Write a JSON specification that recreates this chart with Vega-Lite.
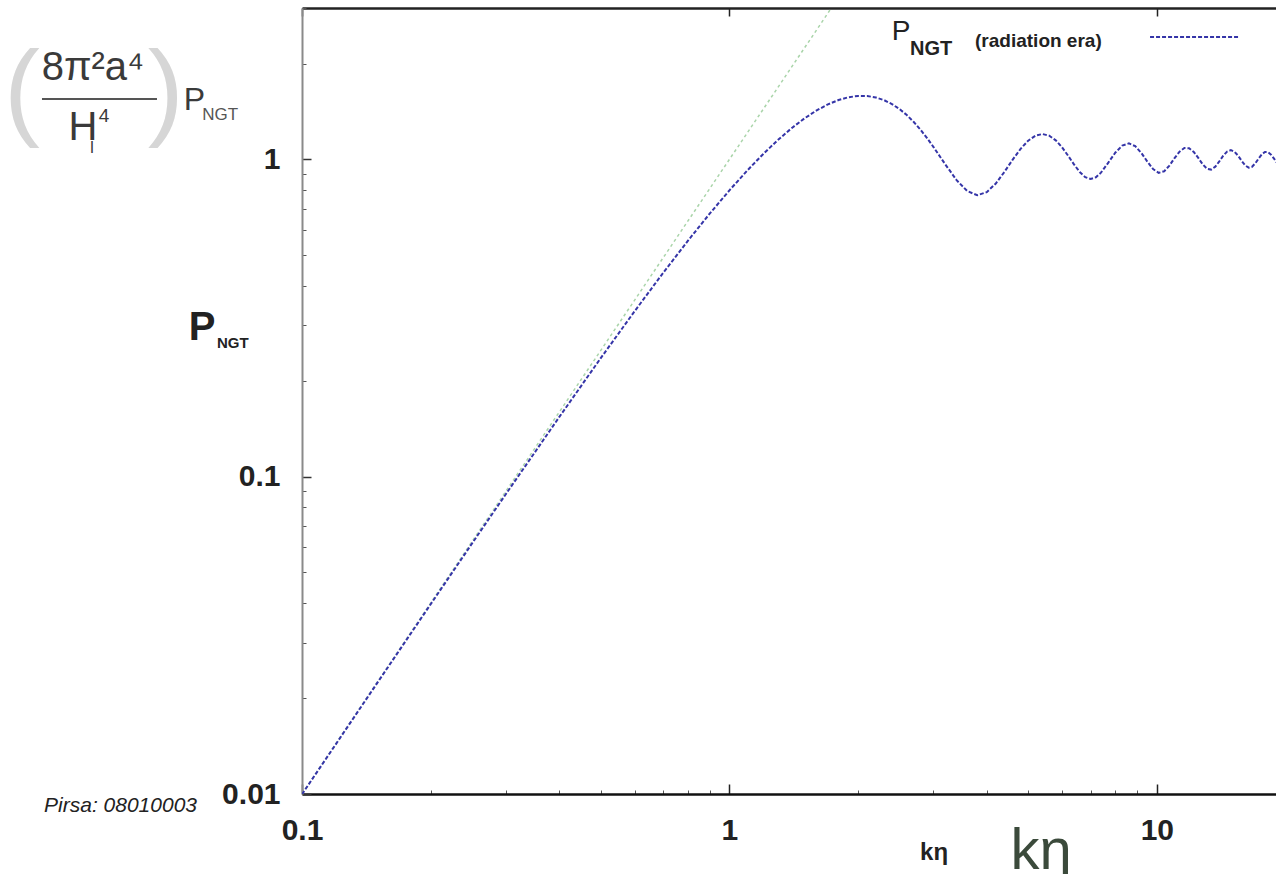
{
  "$schema": "https://vega.github.io/schema/vega-lite/v6.json",
  "width": 974,
  "height": 786,
  "autosize": {"type": "none"},
  "padding": {"left": 302, "top": 8, "right": 0, "bottom": 80},
  "background": "white",
  "config": {"view": {"stroke": null}, "axis": {"grid": false}},
  "datasets": {
    "curve": [
      {"k": 0.1, "p": 0.00998}, {"k": 0.15, "p": 0.02239}, {"k": 0.2, "p": 0.03964}, {"k": 0.25, "p": 0.06163},
      {"k": 0.3, "p": 0.0882}, {"k": 0.4, "p": 0.1543}, {"k": 0.5, "p": 0.2365}, {"k": 0.6, "p": 0.3322},
      {"k": 0.7, "p": 0.4392}, {"k": 0.8, "p": 0.5546}, {"k": 0.9, "p": 0.6755}, {"k": 1.0, "p": 0.7988},
      {"k": 1.1, "p": 0.9214}, {"k": 1.2, "p": 1.0404}, {"k": 1.3, "p": 1.1528}, {"k": 1.4, "p": 1.2562},
      {"k": 1.5, "p": 1.3481}, {"k": 1.6, "p": 1.4268}, {"k": 1.7, "p": 1.4906}, {"k": 1.8, "p": 1.5386},
      {"k": 1.9, "p": 1.5701}, {"k": 2.0, "p": 1.5851}, {"k": 2.1, "p": 1.584}, {"k": 2.2, "p": 1.5676},
      {"k": 2.3, "p": 1.5372}, {"k": 2.4, "p": 1.4943}, {"k": 2.5, "p": 1.4409}, {"k": 2.6, "p": 1.3791},
      {"k": 2.7, "p": 1.3113}, {"k": 2.8, "p": 1.2398}, {"k": 2.9, "p": 1.167}, {"k": 3.0, "p": 1.0954},
      {"k": 3.2, "p": 0.9639}, {"k": 3.4, "p": 0.8603}, {"k": 3.6, "p": 0.7946}, {"k": 3.8, "p": 0.7712},
      {"k": 4.0, "p": 0.7885}, {"k": 4.2, "p": 0.8396}, {"k": 4.4, "p": 0.9138}, {"k": 4.6, "p": 0.9982},
      {"k": 4.8, "p": 1.0794}, {"k": 5.0, "p": 1.1456}, {"k": 5.2, "p": 1.1881}, {"k": 5.4, "p": 1.2021},
      {"k": 5.6, "p": 1.1876}, {"k": 5.8, "p": 1.1483}, {"k": 6.0, "p": 1.0916}, {"k": 6.2, "p": 1.0269},
      {"k": 6.4, "p": 0.9642}, {"k": 6.6, "p": 0.9125}, {"k": 6.8, "p": 0.8789}, {"k": 7.0, "p": 0.8673},
      {"k": 7.2, "p": 0.878}, {"k": 7.4, "p": 0.9082}, {"k": 7.7, "p": 0.9771}, {"k": 8.0, "p": 1.0513},
      {"k": 8.3, "p": 1.1056}, {"k": 8.6, "p": 1.1232}, {"k": 8.9, "p": 1.1006}, {"k": 9.2, "p": 1.0478},
      {"k": 9.5, "p": 0.9843}, {"k": 9.8, "p": 0.9318}, {"k": 10.1, "p": 0.9072}, {"k": 10.4, "p": 0.917},
      {"k": 10.7, "p": 0.9559}, {"k": 11.0, "p": 1.0091}, {"k": 11.3, "p": 1.0577}, {"k": 11.6, "p": 1.0857},
      {"k": 11.9, "p": 1.0844}, {"k": 12.2, "p": 1.0557}, {"k": 12.5, "p": 1.0106}, {"k": 12.8, "p": 0.9651},
      {"k": 13.1, "p": 0.9346}, {"k": 13.4, "p": 0.9288}, {"k": 13.7, "p": 0.9484}, {"k": 14.0, "p": 0.9857},
      {"k": 14.3, "p": 1.0271}, {"k": 14.6, "p": 1.0585}, {"k": 14.9, "p": 1.0694}, {"k": 15.2, "p": 1.0569},
      {"k": 15.5, "p": 1.0262}, {"k": 15.8, "p": 0.9885}, {"k": 16.1, "p": 0.9567}, {"k": 16.4, "p": 0.9416},
      {"k": 16.7, "p": 0.9477}, {"k": 17.0, "p": 0.9721}, {"k": 17.3, "p": 1.0058}, {"k": 17.6, "p": 1.037},
      {"k": 17.9, "p": 1.0549}, {"k": 18.2, "p": 1.054}, {"k": 18.5, "p": 1.0351}, {"k": 18.8, "p": 1.0053},
      {"k": 19.1, "p": 0.975}
    ],
    "asymptote": [{"k": 0.1, "p": 0.01}, {"k": 1.732, "p": 3.0}],
    "legendline": [{"k": 9.64, "p": 2.43}, {"k": 15.65, "p": 2.43}],
    "frac": [{"k1": 0.024642, "k2": 0.045787, "p": 1.5499}],
    "labels": [
      {"s": "paren", "t": "(", "k": 0.022131, "p": 1.2742},
      {"s": "paren", "t": ")", "k": 0.048, "p": 1.2742},
      {"s": "fbig", "t": "8π²a⁴", "k": 0.032434, "p": 1.7791},
      {"s": "fbig", "t": "H", "k": 0.030733, "p": 1.151},
      {"s": "fsup", "t": "4", "k": 0.03441, "p": 1.3118},
      {"s": "fsub", "t": "I", "k": 0.032261, "p": 1.0475},
      {"s": "fP", "t": "P", "k": 0.056, "p": 1.4309},
      {"s": "fNGT", "t": "NGT", "k": 0.05845, "p": 1.331},
      {"s": "yP", "t": "P", "k": 0.058351, "p": 0.26969},
      {"s": "yNGT", "t": "NGT", "k": 0.063259, "p": 0.25441},
      {"s": "kSmall", "t": "kη", "k": 3.0112, "p": 0.0061935},
      {"s": "kBig", "t": "kη", "k": 5.3585, "p": 0.0058016},
      {"s": "pirsa", "t": "Pirsa: 08010003", "k": 0.056799, "p": 0.0087751},
      {"s": "legP", "t": "P", "k": 2.5206, "p": 2.3781},
      {"s": "legNGT", "t": "NGT", "k": 2.6459, "p": 2.1331},
      {"s": "legEra", "t": "(radiation era)", "k": 3.755, "p": 2.2609}
    ]
  },
  "layer": [
    {
      "data": {"name": "asymptote"},
      "mark": {"type": "line", "color": "#a9d4a9", "strokeWidth": 1.5, "strokeDash": [3, 3], "clip": true},
      "encoding": {
        "x": {"field": "k", "type": "quantitative", "scale": {"type": "log", "domain": [0.1, 19], "nice": false},
          "axis": {"orient": "bottom", "values": [0.2, 0.3, 0.4, 0.5, 0.6, 0.7, 0.8, 0.9, 2, 3, 4, 5, 6, 7, 8, 9], "tickSize": -4, "tickColor": "#555", "tickWidth": 1, "labels": false, "domain": false, "title": null}},
        "y": {"field": "p", "type": "quantitative", "scale": {"type": "log", "domain": [0.01, 3], "nice": false},
          "axis": {"orient": "left", "values": [0.02, 0.03, 0.04, 0.05, 0.06, 0.07, 0.08, 0.09, 0.2, 0.3, 0.4, 0.5, 0.6, 0.7, 0.8, 0.9, 2, 3], "tickSize": -4, "tickColor": "#555", "tickWidth": 1, "labels": false, "domain": false, "title": null}}
      }
    },
    {
      "mark": {"type": "rule", "color": "#c0182f", "strokeWidth": 2},
      "encoding": {
        "y": {"datum": 1, "type": "quantitative", "scale": {"type": "log", "domain": [0.01, 3], "nice": false}, "axis": null}
      }
    },
    {
      "data": {"name": "curve"},
      "mark": {"type": "line", "color": "#3535a8", "strokeWidth": 2, "strokeDash": [4, 2], "clip": true},
      "encoding": {
        "x": {"field": "k", "type": "quantitative", "scale": {"type": "log", "domain": [0.1, 19], "nice": false},
          "axis": {"orient": "bottom", "values": [0.1, 1, 10], "tickSize": -10, "tickWidth": 1.5, "tickColor": "#222", "domainColor": "#111", "domainWidth": 2.5, "labelFont": "Liberation Sans", "labelFontWeight": "bold", "labelFontSize": 30, "labelColor": "#222", "labelPadding": 31, "labelFlush": false, "labelOverlap": false, "labelExpr": "datum.value >= 5 ? '10' : datum.value >= 0.5 ? '1' : '0.1'", "title": null}},
        "y": {"field": "p", "type": "quantitative", "scale": {"type": "log", "domain": [0.01, 3], "nice": false},
          "axis": {"orient": "left", "values": [0.01, 0.1, 1], "tickSize": -9, "tickWidth": 1.5, "tickColor": "#333", "domainColor": "#8a8a8a", "domainWidth": 2, "labelFont": "Liberation Sans", "labelFontWeight": "bold", "labelFontSize": 30, "labelColor": "#222", "labelPadding": 31, "labelFlush": false, "labelOverlap": false, "labelExpr": "datum.value < 0.05 ? '0.01' : datum.value < 0.5 ? '0.1' : '1'", "title": null}}
      }
    },
    {
      "data": {"name": "legendline"},
      "mark": {"type": "line", "color": "#3535a8", "strokeWidth": 2, "strokeDash": [4, 2]},
      "encoding": {
        "x": {"field": "k", "type": "quantitative", "scale": {"type": "log", "domain": [0.1, 19], "nice": false},
          "axis": {"orient": "top", "values": [0.1, 1, 10], "tickSize": -8, "tickColor": "#222", "tickWidth": 1.5, "labels": false, "domain": true, "domainColor": "#222", "domainWidth": 2.5, "title": null}},
        "y": {"field": "p", "type": "quantitative", "scale": {"type": "log", "domain": [0.01, 3], "nice": false}, "axis": null}
      }
    },
    {
      "data": {"name": "frac"},
      "mark": {"type": "rule", "color": "#555555", "strokeWidth": 2, "clip": false},
      "encoding": {
        "x": {"field": "k1", "type": "quantitative", "scale": {"type": "log", "domain": [0.1, 19], "nice": false}, "axis": null},
        "x2": {"field": "k2"},
        "y": {"field": "p", "type": "quantitative", "scale": {"type": "log", "domain": [0.01, 3], "nice": false}, "axis": null}
      }
    },
    {
      "data": {"name": "labels"},
      "transform": [{"filter": "datum.s == 'paren'"}],
      "mark": {"type": "text", "font": "Liberation Sans", "fontSize": 108, "color": "#d6d6d6", "align": "center", "baseline": "alphabetic", "clip": false},
      "encoding": {
        "x": {"field": "k", "type": "quantitative", "scale": {"type": "log", "domain": [0.1, 19], "nice": false}, "axis": null},
        "y": {"field": "p", "type": "quantitative", "scale": {"type": "log", "domain": [0.01, 3], "nice": false}, "axis": null},
        "text": {"field": "t"}
      }
    },
    {
      "data": {"name": "labels"},
      "transform": [{"filter": "datum.s == 'fbig'"}],
      "mark": {"type": "text", "font": "Liberation Sans", "fontSize": 40, "color": "#3a3a3a", "align": "center", "baseline": "alphabetic", "clip": false},
      "encoding": {
        "x": {"field": "k", "type": "quantitative", "scale": {"type": "log", "domain": [0.1, 19], "nice": false}, "axis": null},
        "y": {"field": "p", "type": "quantitative", "scale": {"type": "log", "domain": [0.01, 3], "nice": false}, "axis": null},
        "text": {"field": "t"}
      }
    },
    {
      "data": {"name": "labels"},
      "transform": [{"filter": "datum.s == 'fsup'"}],
      "mark": {"type": "text", "font": "Liberation Sans", "fontSize": 19, "color": "#3a3a3a", "align": "center", "baseline": "alphabetic", "clip": false},
      "encoding": {
        "x": {"field": "k", "type": "quantitative", "scale": {"type": "log", "domain": [0.1, 19], "nice": false}, "axis": null},
        "y": {"field": "p", "type": "quantitative", "scale": {"type": "log", "domain": [0.01, 3], "nice": false}, "axis": null},
        "text": {"field": "t"}
      }
    },
    {
      "data": {"name": "labels"},
      "transform": [{"filter": "datum.s == 'fsub'"}],
      "mark": {"type": "text", "font": "Liberation Sans", "fontSize": 16, "color": "#3a3a3a", "align": "center", "baseline": "alphabetic", "clip": false},
      "encoding": {
        "x": {"field": "k", "type": "quantitative", "scale": {"type": "log", "domain": [0.1, 19], "nice": false}, "axis": null},
        "y": {"field": "p", "type": "quantitative", "scale": {"type": "log", "domain": [0.01, 3], "nice": false}, "axis": null},
        "text": {"field": "t"}
      }
    },
    {
      "data": {"name": "labels"},
      "transform": [{"filter": "datum.s == 'fP'"}],
      "mark": {"type": "text", "font": "Liberation Sans", "fontSize": 32, "color": "#3a3a3a", "align": "center", "baseline": "alphabetic", "clip": false},
      "encoding": {
        "x": {"field": "k", "type": "quantitative", "scale": {"type": "log", "domain": [0.1, 19], "nice": false}, "axis": null},
        "y": {"field": "p", "type": "quantitative", "scale": {"type": "log", "domain": [0.01, 3], "nice": false}, "axis": null},
        "text": {"field": "t"}
      }
    },
    {
      "data": {"name": "labels"},
      "transform": [{"filter": "datum.s == 'fNGT'"}],
      "mark": {"type": "text", "font": "Liberation Sans", "fontSize": 17, "color": "#555555", "align": "left", "baseline": "alphabetic", "clip": false},
      "encoding": {
        "x": {"field": "k", "type": "quantitative", "scale": {"type": "log", "domain": [0.1, 19], "nice": false}, "axis": null},
        "y": {"field": "p", "type": "quantitative", "scale": {"type": "log", "domain": [0.01, 3], "nice": false}, "axis": null},
        "text": {"field": "t"}
      }
    },
    {
      "data": {"name": "labels"},
      "transform": [{"filter": "datum.s == 'yP'"}],
      "mark": {"type": "text", "font": "Liberation Sans", "fontWeight": "bold", "fontSize": 40, "color": "#222222", "align": "center", "baseline": "alphabetic", "clip": false},
      "encoding": {
        "x": {"field": "k", "type": "quantitative", "scale": {"type": "log", "domain": [0.1, 19], "nice": false}, "axis": null},
        "y": {"field": "p", "type": "quantitative", "scale": {"type": "log", "domain": [0.01, 3], "nice": false}, "axis": null},
        "text": {"field": "t"}
      }
    },
    {
      "data": {"name": "labels"},
      "transform": [{"filter": "datum.s == 'yNGT'"}],
      "mark": {"type": "text", "font": "Liberation Sans", "fontWeight": "bold", "fontSize": 15, "color": "#222222", "align": "left", "baseline": "alphabetic", "clip": false},
      "encoding": {
        "x": {"field": "k", "type": "quantitative", "scale": {"type": "log", "domain": [0.1, 19], "nice": false}, "axis": null},
        "y": {"field": "p", "type": "quantitative", "scale": {"type": "log", "domain": [0.01, 3], "nice": false}, "axis": null},
        "text": {"field": "t"}
      }
    },
    {
      "data": {"name": "labels"},
      "transform": [{"filter": "datum.s == 'kSmall'"}],
      "mark": {"type": "text", "font": "Liberation Sans", "fontWeight": "bold", "fontSize": 24, "color": "#222222", "align": "center", "baseline": "alphabetic", "clip": false},
      "encoding": {
        "x": {"field": "k", "type": "quantitative", "scale": {"type": "log", "domain": [0.1, 19], "nice": false}, "axis": null},
        "y": {"field": "p", "type": "quantitative", "scale": {"type": "log", "domain": [0.01, 3], "nice": false}, "axis": null},
        "text": {"field": "t"}
      }
    },
    {
      "data": {"name": "labels"},
      "transform": [{"filter": "datum.s == 'kBig'"}],
      "mark": {"type": "text", "font": "Liberation Sans", "fontSize": 58, "color": "#3b4a3b", "align": "center", "baseline": "alphabetic", "clip": false},
      "encoding": {
        "x": {"field": "k", "type": "quantitative", "scale": {"type": "log", "domain": [0.1, 19], "nice": false}, "axis": null},
        "y": {"field": "p", "type": "quantitative", "scale": {"type": "log", "domain": [0.01, 3], "nice": false}, "axis": null},
        "text": {"field": "t"}
      }
    },
    {
      "data": {"name": "labels"},
      "transform": [{"filter": "datum.s == 'pirsa'"}],
      "mark": {"type": "text", "font": "Liberation Sans", "fontStyle": "italic", "fontSize": 21, "color": "#222222", "align": "right", "baseline": "alphabetic", "clip": false},
      "encoding": {
        "x": {"field": "k", "type": "quantitative", "scale": {"type": "log", "domain": [0.1, 19], "nice": false}, "axis": null},
        "y": {"field": "p", "type": "quantitative", "scale": {"type": "log", "domain": [0.01, 3], "nice": false}, "axis": null},
        "text": {"field": "t"}
      }
    },
    {
      "data": {"name": "labels"},
      "transform": [{"filter": "datum.s == 'legP'"}],
      "mark": {"type": "text", "font": "Liberation Sans", "fontSize": 28, "color": "#222222", "align": "center", "baseline": "alphabetic", "clip": false},
      "encoding": {
        "x": {"field": "k", "type": "quantitative", "scale": {"type": "log", "domain": [0.1, 19], "nice": false}, "axis": null},
        "y": {"field": "p", "type": "quantitative", "scale": {"type": "log", "domain": [0.01, 3], "nice": false}, "axis": null},
        "text": {"field": "t"}
      }
    },
    {
      "data": {"name": "labels"},
      "transform": [{"filter": "datum.s == 'legNGT'"}],
      "mark": {"type": "text", "font": "Liberation Sans", "fontWeight": "bold", "fontSize": 20, "color": "#222222", "align": "left", "baseline": "alphabetic", "clip": false},
      "encoding": {
        "x": {"field": "k", "type": "quantitative", "scale": {"type": "log", "domain": [0.1, 19], "nice": false}, "axis": null},
        "y": {"field": "p", "type": "quantitative", "scale": {"type": "log", "domain": [0.01, 3], "nice": false}, "axis": null},
        "text": {"field": "t"}
      }
    },
    {
      "data": {"name": "labels"},
      "transform": [{"filter": "datum.s == 'legEra'"}],
      "mark": {"type": "text", "font": "Liberation Sans", "fontWeight": "bold", "fontSize": 19, "color": "#222222", "align": "left", "baseline": "alphabetic", "clip": false},
      "encoding": {
        "x": {"field": "k", "type": "quantitative", "scale": {"type": "log", "domain": [0.1, 19], "nice": false}, "axis": null},
        "y": {"field": "p", "type": "quantitative", "scale": {"type": "log", "domain": [0.01, 3], "nice": false}, "axis": null},
        "text": {"field": "t"}
      }
    }
  ],
  "resolve": {"axis": {"x": "independent", "y": "independent"}}
}
